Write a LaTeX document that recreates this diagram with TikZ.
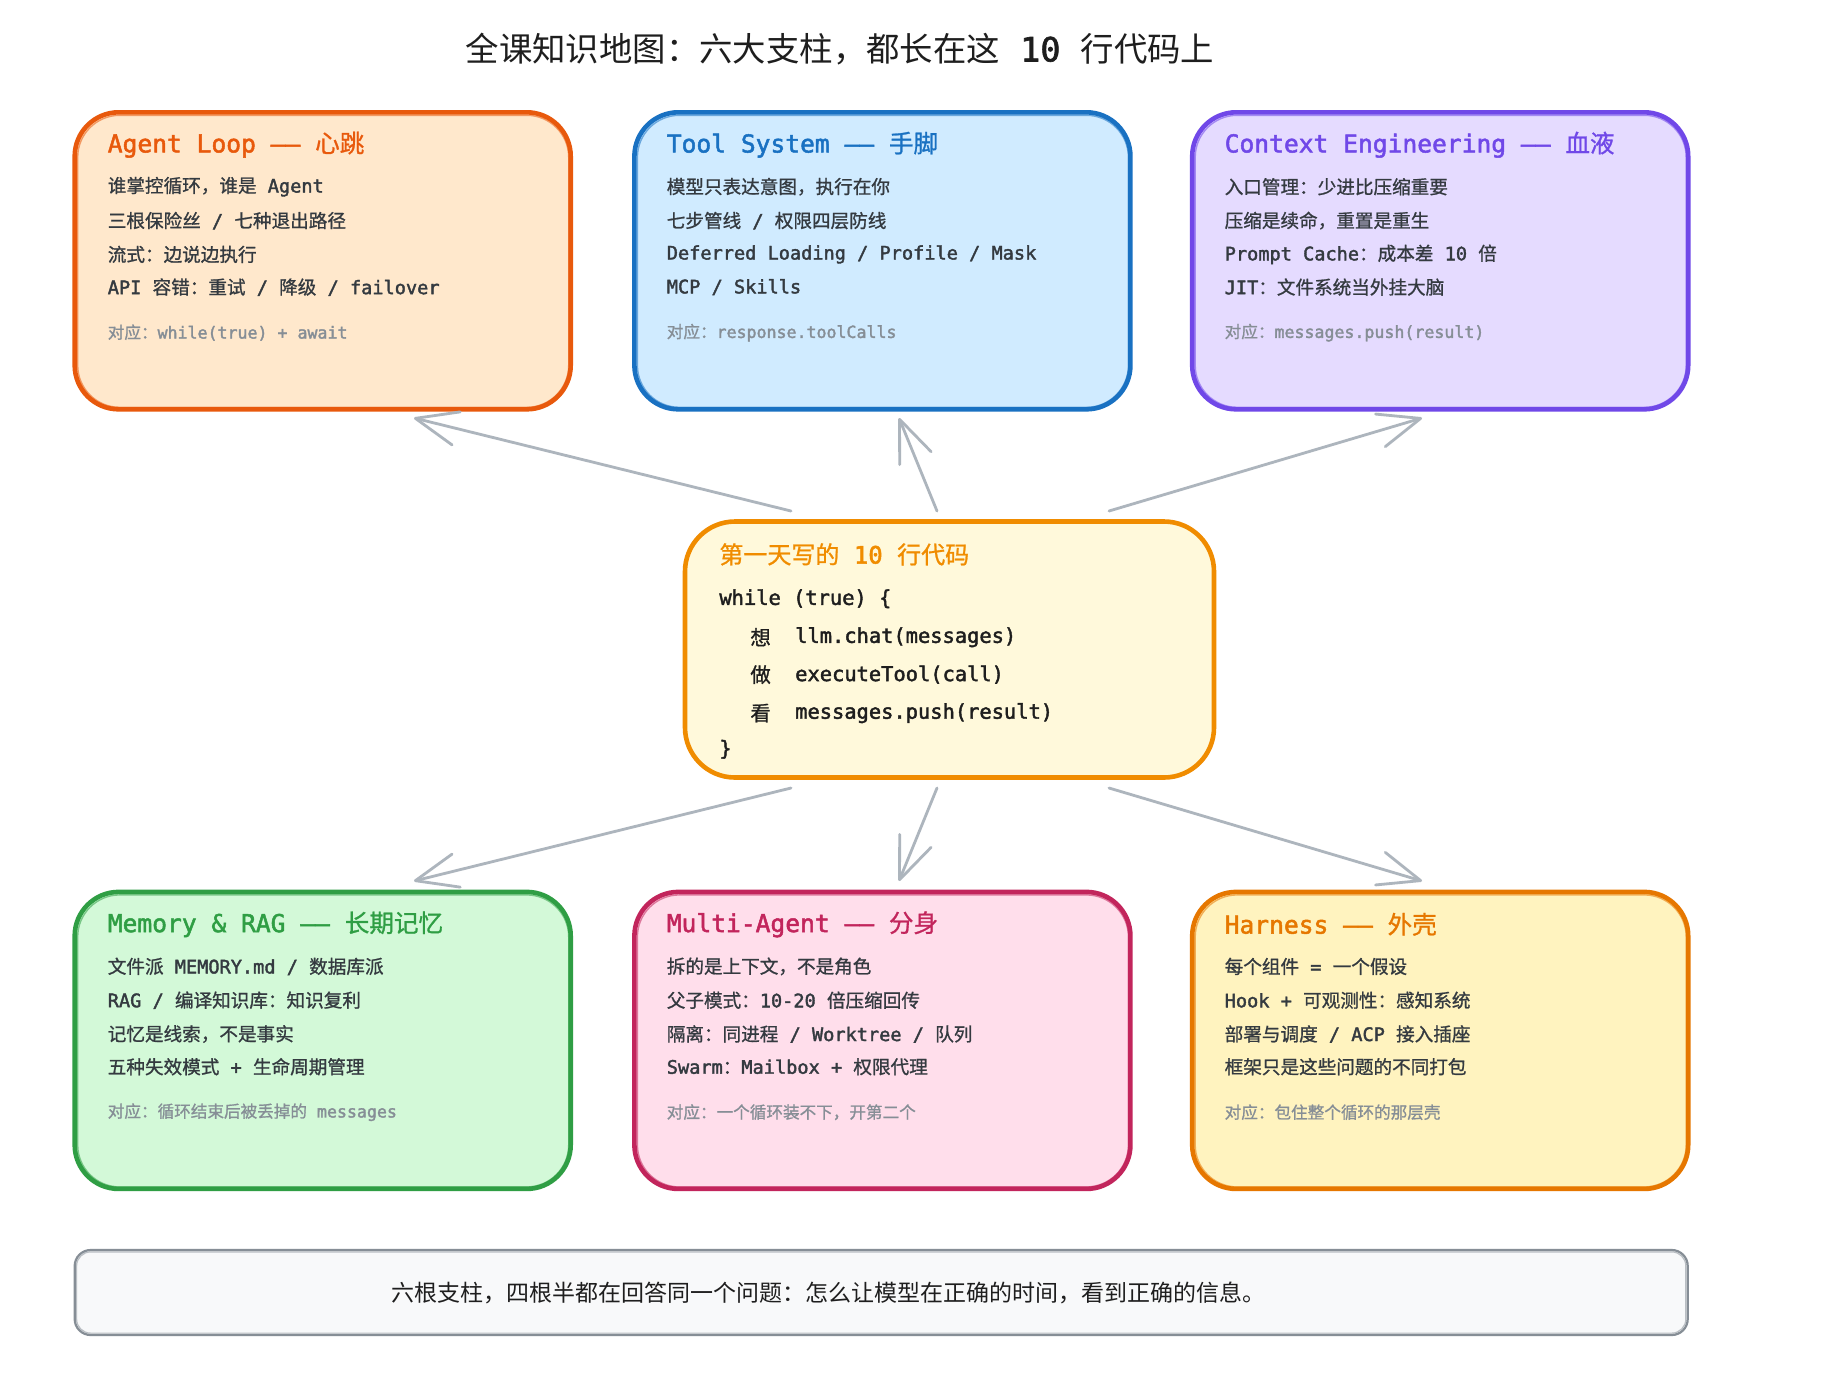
\documentclass[tikz,border=0pt]{standalone}
\usepackage{fontspec}
\setmainfont{Noto Sans CJK SC}
\newfontfamily\cjkm{Noto Sans CJK SC}[FakeBold=1]
\newfontfamily\monof{DejaVu Sans Mono}[FakeBold=2]
\usetikzlibrary{arrows.meta}
\newcommand\mt[1]{{\monof#1}}
\definecolor{cAl}{HTML}{E8590C}\definecolor{fAl}{HTML}{FFE8CC}
\definecolor{cTs}{HTML}{1971C2}\definecolor{fTs}{HTML}{D0EBFF}
\definecolor{cCe}{HTML}{7048E8}\definecolor{fCe}{HTML}{E5DBFF}
\definecolor{cMid}{HTML}{F08C00}\definecolor{fMid}{HTML}{FFF9DB}
\definecolor{cMr}{HTML}{2F9E44}\definecolor{fMr}{HTML}{D3F9D8}
\definecolor{cMa}{HTML}{C2255C}\definecolor{fMa}{HTML}{FFDEEB}
\definecolor{cHa}{HTML}{E67700}\definecolor{fHa}{HTML}{FFF3BF}
\definecolor{cBan}{HTML}{868E96}\definecolor{fBan}{HTML}{F8F9FA}
\definecolor{arrowgray}{HTML}{ADB5BD}
\definecolor{bodygray}{HTML}{343A40}
\definecolor{footgray}{HTML}{868E96}
\definecolor{ink}{HTML}{1E1E1E}
\begin{document}
\begin{tikzpicture}[x=0.5pt,y=-0.5pt,
  pillar/.style={draw, line width=2.3pt, rounded corners=22pt, minimum width=248pt, minimum height=148.5pt, inner sep=0pt, outer sep=0pt},
  sketch/.style={line width=0.7pt, rounded corners=21pt, opacity=0.55},
  ttl/.style={anchor=west, inner sep=0pt, font=\fontsize{12.3}{14}\selectfont\cjkm},
  bodytxt/.style={anchor=west, inner sep=0pt, text=bodygray, font=\fontsize{9.3}{11}\selectfont\cjkm},
  foot/.style={anchor=west, inner sep=0pt, text=footgray, font=\fontsize{8.3}{10}\selectfont\cjkm},
  codetxt/.style={anchor=west, inner sep=0pt, text=ink, font=\fontsize{10.2}{12}\selectfont\cjkm},
  conn/.style={draw=arrowgray, line width=1.4pt, line cap=round, -{Straight Barb[length=21pt,width=17pt,round]}}
]
\useasboundingbox[fill=white] (0,0) rectangle (1830,1388);

% page title
\node[inner sep=0pt, text=ink, font=\fontsize{16.7}{19}\selectfont] (title) at (840,49) {全课知识地图：六大支柱，都长在这\mt{\ 10\ }行代码上};

% pillar boxes
\node[pillar, draw=cAl, fill=fAl] (al) at (322.7,260.8) {};
\node[pillar, draw=cTs, fill=fTs] (ts) at (882.4,260.8) {};
\node[pillar, draw=cCe, fill=fCe] (ce) at (1440.2,260.8) {};
\node[pillar, draw=cMr, fill=fMr] (mr) at (322.7,1040.4) {};
\node[pillar, draw=cMa, fill=fMa] (ma) at (882.4,1040.4) {};
\node[pillar, draw=cHa, fill=fHa] (ha) at (1440.2,1040.4) {};

% centre box
\node[draw=cMid, fill=fMid, line width=2.3pt, rounded corners=25pt, minimum width=264.5pt, minimum height=128pt, inner sep=0pt] (mid) at (949.5,649.5) {};

% hand-drawn second strokes
\draw[sketch, cAl] ([shift={(3,-2)}]al.south west) rectangle ([shift={(-2,3)}]al.north east);
\draw[sketch, cTs] ([shift={(3,-2)}]ts.south west) rectangle ([shift={(-2,3)}]ts.north east);
\draw[sketch, cCe] ([shift={(3,-2)}]ce.south west) rectangle ([shift={(-2,3)}]ce.north east);
\draw[sketch, cMr] ([shift={(3,-2)}]mr.south west) rectangle ([shift={(-2,3)}]mr.north east);
\draw[sketch, cMa] ([shift={(3,-2)}]ma.south west) rectangle ([shift={(-2,3)}]ma.north east);
\draw[sketch, cHa] ([shift={(3,-2)}]ha.south west) rectangle ([shift={(-2,3)}]ha.north east);
\draw[sketch, cMid, rounded corners=24pt] ([shift={(3,-2)}]mid.south west) rectangle ([shift={(-2,3)}]mid.north east);

% banner
\node[draw=cBan, fill=fBan, line width=1.1pt, rounded corners=8pt, minimum width=806.5pt, minimum height=42.5pt, inner sep=0pt] (ban) at (881.2,1292.5) {};
\draw[sketch, cBan, line width=0.6pt, rounded corners=7pt] ([shift={(3,-3)}]ban.south west) rectangle ([shift={(-3,3)}]ban.north east);
\node[inner sep=0pt, text=ink, font=\fontsize{11.5}{13}\selectfont] (bantxt) at (828,1293) {六根支柱，四根半都在回答同一个问题：怎么让模型在正确的时间，看到正确的信息。};

% Agent Loop
\node[ttl, text=cAl] (alt) at (107.4,144.7) {\mt{Agent Loop —— }心跳};
\node[bodytxt] (al1) at (107.4,186.7) {谁掌控循环，谁是\mt{\ Agent}};
\node[bodytxt] (al2) at (107.4,220.6) {三根保险丝\mt{\ /\ }七种退出路径};
\node[bodytxt] (al3) at (107.4,254.4) {流式：边说边执行};
\node[bodytxt] (al4) at (107.4,287.1) {\mt{API\ }容错：重试\mt{\ /\ }降级\mt{\ /\ failover}};
\node[foot] (alf) at (107.4,332.6) {对应：\mt{while(true) + await}};

% Tool System
\node[ttl, text=cTs] (tst) at (666.4,144.7) {\mt{Tool System —— }手脚};
\node[bodytxt] (ts1) at (666.4,186.7) {模型只表达意图，执行在你};
\node[bodytxt] (ts2) at (666.4,220.6) {七步管线\mt{\ /\ }权限四层防线};
\node[bodytxt] (ts3) at (666.4,254.4) {\mt{Deferred Loading / Profile / Mask}};
\node[bodytxt] (ts4) at (666.4,287.1) {\mt{MCP / Skills}};
\node[foot] (tsf) at (666.4,332.6) {对应：\mt{response.toolCalls}};

% Context Engineering
\node[ttl, text=cCe] (cet) at (1224.3,144.7) {\mt{Context Engineering —— }血液};
\node[bodytxt] (ce1) at (1224.3,186.7) {入口管理：少进比压缩重要};
\node[bodytxt] (ce2) at (1224.3,220.6) {压缩是续命，重置是重生};
\node[bodytxt] (ce3) at (1224.3,254.4) {\mt{Prompt Cache}：成本差\mt{\ 10\ }倍};
\node[bodytxt] (ce4) at (1224.3,287.1) {\mt{JIT}：文件系统当外挂大脑};
\node[foot] (cef) at (1224.3,332.6) {对应：\mt{messages.push(result)}};

% Memory & RAG
\node[ttl, text=cMr] (mrt) at (107.4,924.3) {\mt{Memory \& RAG —— }长期记忆};
\node[bodytxt] (mr1) at (107.4,966.4) {文件派\mt{\ MEMORY.md /\ }数据库派};
\node[bodytxt] (mr2) at (107.4,1000.2) {\mt{RAG /\ }编译知识库：知识复利};
\node[bodytxt] (mr3) at (107.4,1034) {记忆是线索，不是事实};
\node[bodytxt] (mr4) at (107.4,1066.7) {五种失效模式\mt{\ +\ }生命周期管理};
\node[foot] (mrf) at (107.4,1112.2) {对应：循环结束后被丢掉的\mt{\ messages}};

% Multi-Agent
\node[ttl, text=cMa] (mat) at (666.4,924.3) {\mt{Multi-Agent —— }分身};
\node[bodytxt] (ma1) at (666.4,966.4) {拆的是上下文，不是角色};
\node[bodytxt] (ma2) at (666.4,1000.2) {父子模式：\mt{10-20\ }倍压缩回传};
\node[bodytxt] (ma3) at (666.4,1034) {隔离：同进程\mt{\ / Worktree /\ }队列};
\node[bodytxt] (ma4) at (666.4,1066.7) {\mt{Swarm}：\mt{Mailbox +\ }权限代理};
\node[foot] (maf) at (666.4,1112.2) {对应：一个循环装不下，开第二个};

% Harness
\node[ttl, text=cHa] (hat) at (1224.3,924.3) {\mt{Harness —— }外壳};
\node[bodytxt] (ha1) at (1224.3,966.4) {每个组件\mt{\ =\ }一个假设};
\node[bodytxt] (ha2) at (1224.3,1000.2) {\mt{Hook +\ }可观测性：感知系统};
\node[bodytxt] (ha3) at (1224.3,1034) {部署与调度\mt{\ / ACP\ }接入插座};
\node[bodytxt] (ha4) at (1224.3,1066.7) {框架只是这些问题的不同打包};
\node[foot] (haf) at (1224.3,1112.2) {对应：包住整个循环的那层壳};

% centre text
\node[anchor=west, inner sep=0pt, text=cMid, font=\fontsize{12}{14}\selectfont\cjkm] (midt) at (719,554.4) {第一天写的\mt{\ 10\ }行代码};
\node[codetxt] (c0) at (719,598.7) {\mt{while (true) \{}};
\node[codetxt] (k1) at (750,637.2) {想};
\node[codetxt] (c1) at (794.8,637.2) {\mt{llm.chat(messages)}};
\node[codetxt] (k2) at (750,674.6) {做};
\node[codetxt] (c2) at (794.8,674.6) {\mt{executeTool(call)}};
\node[codetxt] (k3) at (750,713.1) {看};
\node[codetxt] (c3) at (794.8,713.1) {\mt{messages.push(result)}};
\node[codetxt] (c4) at (719,749.3) {\mt{\}}};

% connector end points
\coordinate (s1) at (791,511);  \coordinate (e1) at (414,418);
\coordinate (s2) at (937,511);  \coordinate (e2) at (899,418);
\coordinate (s3) at (1109,511); \coordinate (e3) at (1422,418);
\coordinate (s4) at (791,788);  \coordinate (e4) at (414,881);
\coordinate (s5) at (937,788);  \coordinate (e5) at (899,881);
\coordinate (s6) at (1109,788); \coordinate (e6) at (1422,881);
\draw[conn] (s1) -- (e1);
\draw[conn] (s2) -- (e2);
\draw[conn] (s3) -- (e3);
\draw[conn] (s4) -- (e4);
\draw[conn] (s5) -- (e5);
\draw[conn] (s6) -- (e6);
\end{tikzpicture}
\end{document}
